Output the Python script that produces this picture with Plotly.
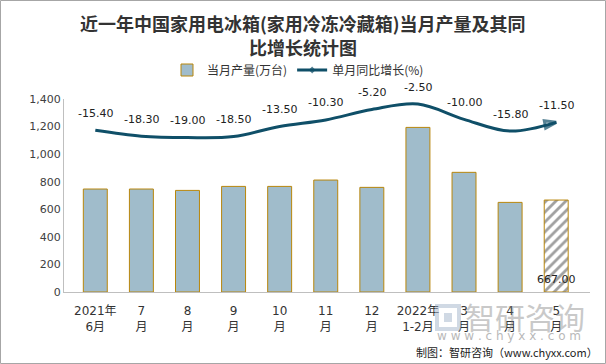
import plotly.graph_objects as go

categories = ["2021年<br>6月", "7<br>月", "8<br>月", "9<br>月", "10<br>月", "11<br>月",
              "12<br>月", "2022年<br>1-2月", "3<br>月", "4<br>月", "5<br>月"]
production = [747, 747, 737, 766, 766, 812, 759, 1194, 868, 650, 667.0]
yoy = [-15.4, -18.3, -19.0, -18.5, -13.5, -10.3, -5.2, -2.5, -10.0, -15.8, -11.5]
yticks = [0, 200, 400, 600, 800, 1000, 1200, 1400]

W, H = 606, 364
L, R, T, B = 64, 16, 99, 72
PW, PH = W - L - R, H - T - B

def px(x):  # pixel x -> paper x
    return (x - L) / PW

def py(y):  # pixel y -> paper y
    return (H - B - y) / PH

bar_fill = "#a0bccb"
bar_edge = "#b8860b"
line_color = "#0f4f68"
txt = "#333333"
num_font = "DejaVu Sans, Noto Sans CJK SC, sans-serif"
cjk_font = "Noto Sans CJK SC, sans-serif"
n = len(categories)

fig = go.Figure()
fig.add_trace(go.Bar(
    x=categories, y=production, name="当月产量(万台)",
    marker=dict(
        color=[bar_fill] * (n - 1) + ["white"],
        line=dict(color=bar_edge, width=1),
        pattern=dict(shape=[""] * (n - 1) + ["/"], fgcolor=bar_fill, bgcolor="white",
                     size=7, solidity=0.4),
    ),
    hoverinfo="skip",
))
sym = ["diamond"] + ["circle"] * (n - 2) + ["arrow-open"]
sizes = [8] + [0] * (n - 2) + [12]
fig.add_trace(go.Scatter(
    x=categories, y=yoy, name="单月同比增长(%)", yaxis="y2",
    mode="lines+markers",
    line=dict(color=line_color, width=3, shape="spline", smoothing=1.0),
    marker=dict(symbol=sym, size=sizes, color=line_color, angleref="previous",
                line=dict(color=line_color, width=3)),
))

annotations = []
for c, v in zip(categories, yoy):
    annotations.append(dict(x=c, y=v, xref="x", yref="y2", text=f"{v:.2f}", showarrow=False,
                            yshift=17, font=dict(size=11, color="#222222", family=num_font)))
# value label at the base of the last bar
annotations.append(dict(x=categories[-1], y=0, xref="x", yref="y", text=f"{production[-1]:.2f}",
                        showarrow=False, yshift=13, font=dict(size=11, color="#222222", family=num_font)))
# title
annotations.append(dict(x=px(303), y=py(23), xref="paper", yref="paper", xanchor="center", yanchor="middle",
                        text="<b>近一年中国家用电冰箱(家用冷冻冷藏箱)当月产量及其同</b>", showarrow=False,
                        font=dict(size=18, color=txt, family=cjk_font)))
annotations.append(dict(x=px(303), y=py(47), xref="paper", yref="paper", xanchor="center", yanchor="middle",
                        text="<b>比增长统计图</b>", showarrow=False,
                        font=dict(size=18, color=txt, family=cjk_font)))
# watermark
annotations.append(dict(x=px(525), y=py(316), xref="paper", yref="paper", xanchor="center", yanchor="middle",
                        text="智研咨询", showarrow=False, opacity=0.42,
                        font=dict(size=30, color="#808080", family=cjk_font)))
annotations.append(dict(x=px(509), y=py(336), xref="paper", yref="paper", xanchor="center", yanchor="middle",
                        text="w w w . c h y x x . c o m", showarrow=False, opacity=0.55,
                        font=dict(size=12, color="#808080", family=num_font)))
# source
annotations.append(dict(x=px(600), y=py(352), xref="paper", yref="paper", xanchor="right", yanchor="middle",
                        text="制图：智研咨询（www.chyxx.com）", showarrow=False,
                        font=dict(size=11, color="#222222", family=cjk_font)))

shapes = [
    dict(type="rect", xref="paper", yref="paper", x0=px(0.5), x1=px(W - 0.5), y0=py(H - 0.5), y1=py(0.5),
         line=dict(color="#a6a6a6", width=1), fillcolor="rgba(0,0,0,0)", layer="below"),
    # watermark logo
    dict(type="rect", xref="paper", yref="paper", x0=px(437), x1=px(459), y0=py(329), y1=py(306),
         line=dict(color="rgba(150,170,195,0.45)", width=4), fillcolor="rgba(0,0,0,0)"),
    dict(type="rect", xref="paper", yref="paper", x0=px(444), x1=px(452), y0=py(322), y1=py(313),
         line=dict(width=0), fillcolor="rgba(150,170,195,0.45)"),
]

fig.update_layout(
    width=W, height=H,
    margin=dict(l=L, r=R, t=T, b=B, autoexpand=False),
    paper_bgcolor="white", plot_bgcolor="white",
    font=dict(family=num_font, size=11, color=txt),
    legend=dict(orientation="h", x=px(298), xanchor="center", y=py(70), yanchor="middle",
                font=dict(size=12, color=txt, family=cjk_font), bgcolor="rgba(0,0,0,0)",
                itemwidth=30),
    bargap=0.48,
    showlegend=True,
    xaxis=dict(showline=True, linecolor="#bfbfbf", linewidth=1, ticks="", showgrid=False,
               tickfont=dict(size=12, color=txt, family=num_font), automargin=False,
               ticklabelstandoff=8),
    yaxis=dict(range=[0, 1400], tickvals=yticks, tickformat=",", showline=True,
               linecolor="#bfbfbf", linewidth=1, showgrid=False, zeroline=False,
               tickfont=dict(size=11, color="#404040", family=num_font), ticks="", automargin=False),
    yaxis2=dict(range=[-95, 0], overlaying="y", side="right", visible=False),
    annotations=annotations,
    shapes=shapes,
)
fig.write_html("out.html", config={"displayModeBar": False},
               post_script="document.body.style.margin='0';document.body.style.overflow='hidden';")
